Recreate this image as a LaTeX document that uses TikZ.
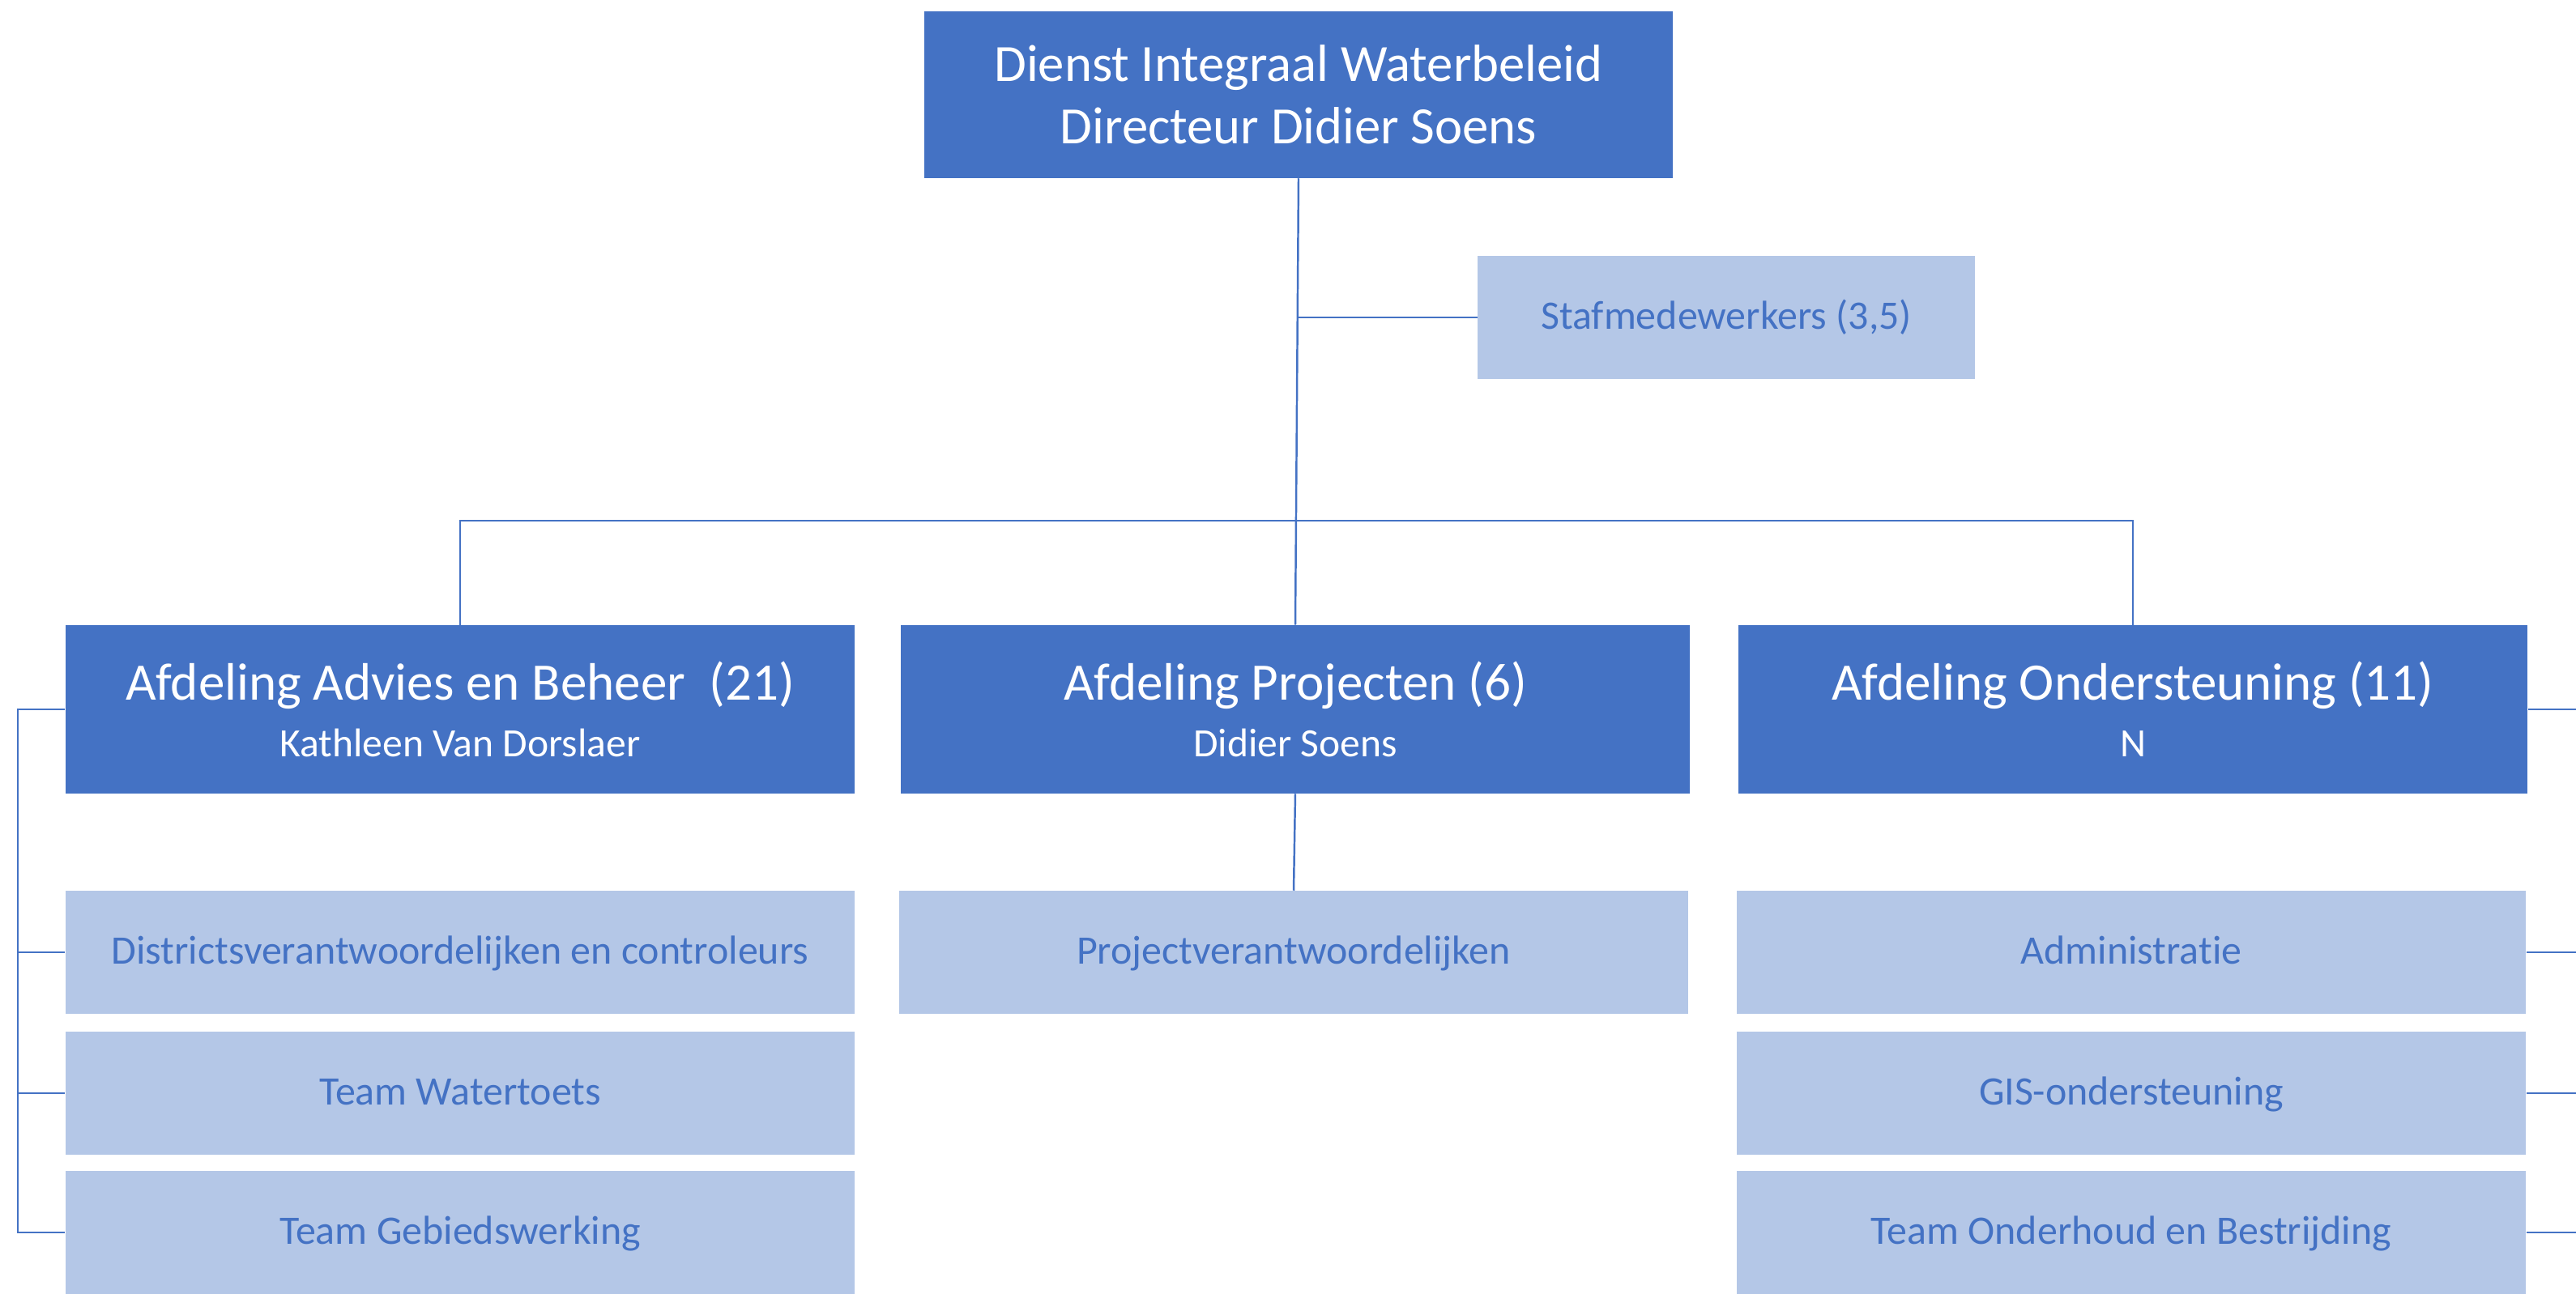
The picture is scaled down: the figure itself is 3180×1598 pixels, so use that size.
\documentclass[tikz,border=0pt]{standalone}
\usepackage{fontspec}
\setmainfont{Carlito}[Ligatures=NoCommon]
\usetikzlibrary{positioning}
\definecolor{donker}{HTML}{4472C4}
\definecolor{licht}{HTML}{B4C7E7}

\begin{document}
\begin{tikzpicture}[x=0.01cm,y=-0.01cm,
  hoofd/.style={fill=donker,text=white,align=center,inner sep=0pt,
    minimum width=9.74cm,minimum height=2.07cm,font=\fontsize{14.1}{20}\selectfont},
  team/.style={fill=licht,text=donker,inner sep=0pt,text height=1.05em,text depth=0.21em,
    minimum width=9.74cm,minimum height=1.51cm,font=\fontsize{14.2}{17}\selectfont},
  lijn/.style={draw=donker,line width=0.7pt}]
\useasboundingbox (0,0) rectangle (3180,1598);
\node[hoofd,minimum width=9.23cm,minimum height=2.05cm,font=\fontsize{18.4}{22}\selectfont]
  (dienst) at (1603,117) {Dienst Integraal Waterbeleid\\Directeur Didier Soens};
\node[team,minimum width=6.13cm,minimum height=1.52cm] (staf) at (2131,392) {Stafmedewerkers (3,5)};
\node[hoofd] (advies)    at (568,876)  {{\fontsize{18.5}{22}\selectfont Afdeling Advies en Beheer\ \ (21)}\\Kathleen Van Dorslaer};
\node[hoofd] (projecten) at (1599,876) {{\fontsize{18.5}{22}\selectfont Afdeling Projecten (6)}\\Didier Soens};
\node[hoofd] (onderst)   at (2633,876) {{\fontsize{18.5}{22}\selectfont Afdeling Ondersteuning (11)}\\N};
\node[team] (a1) at (568,1176) {Districtsverantwoordelijken en controleurs};
\node[team] (a2) at (568,1350) {Team Watertoets};
\node[team] (a3) at (568,1522) {Team Gebiedswerking};
\node[team] (p1) at (1597,1176) {Projectverantwoordelijken};
\node[team] (o1) at (2631,1176) {Administratie};
\node[team] (o2) at (2631,1350) {GIS-ondersteuning};
\node[team] (o3) at (2631,1522) {Team Onderhoud en Bestrijding};
\coordinate (bus) at (1603,643);
\coordinate (links) at (22,876);
\coordinate (rechts) at (3180,876);
\draw[lijn] (dienst.south) -- (projecten.north);
\draw[lijn] (staf.west) -- (staf.west -| dienst.south);
\draw[lijn] (advies.north) |- (bus) -| (onderst.north);
\draw[lijn] (projecten.south) -- (p1.north);
\draw[lijn] (advies.west) -- (links) |- (a3.west);
\foreach \n in {a1,a2} \draw[lijn] (\n.west) -- (\n.west -| links);
\foreach \n in {onderst,o1,o2,o3} \draw[lijn] (\n.east) -- (\n.east -| rechts);
\end{tikzpicture}
\end{document}
